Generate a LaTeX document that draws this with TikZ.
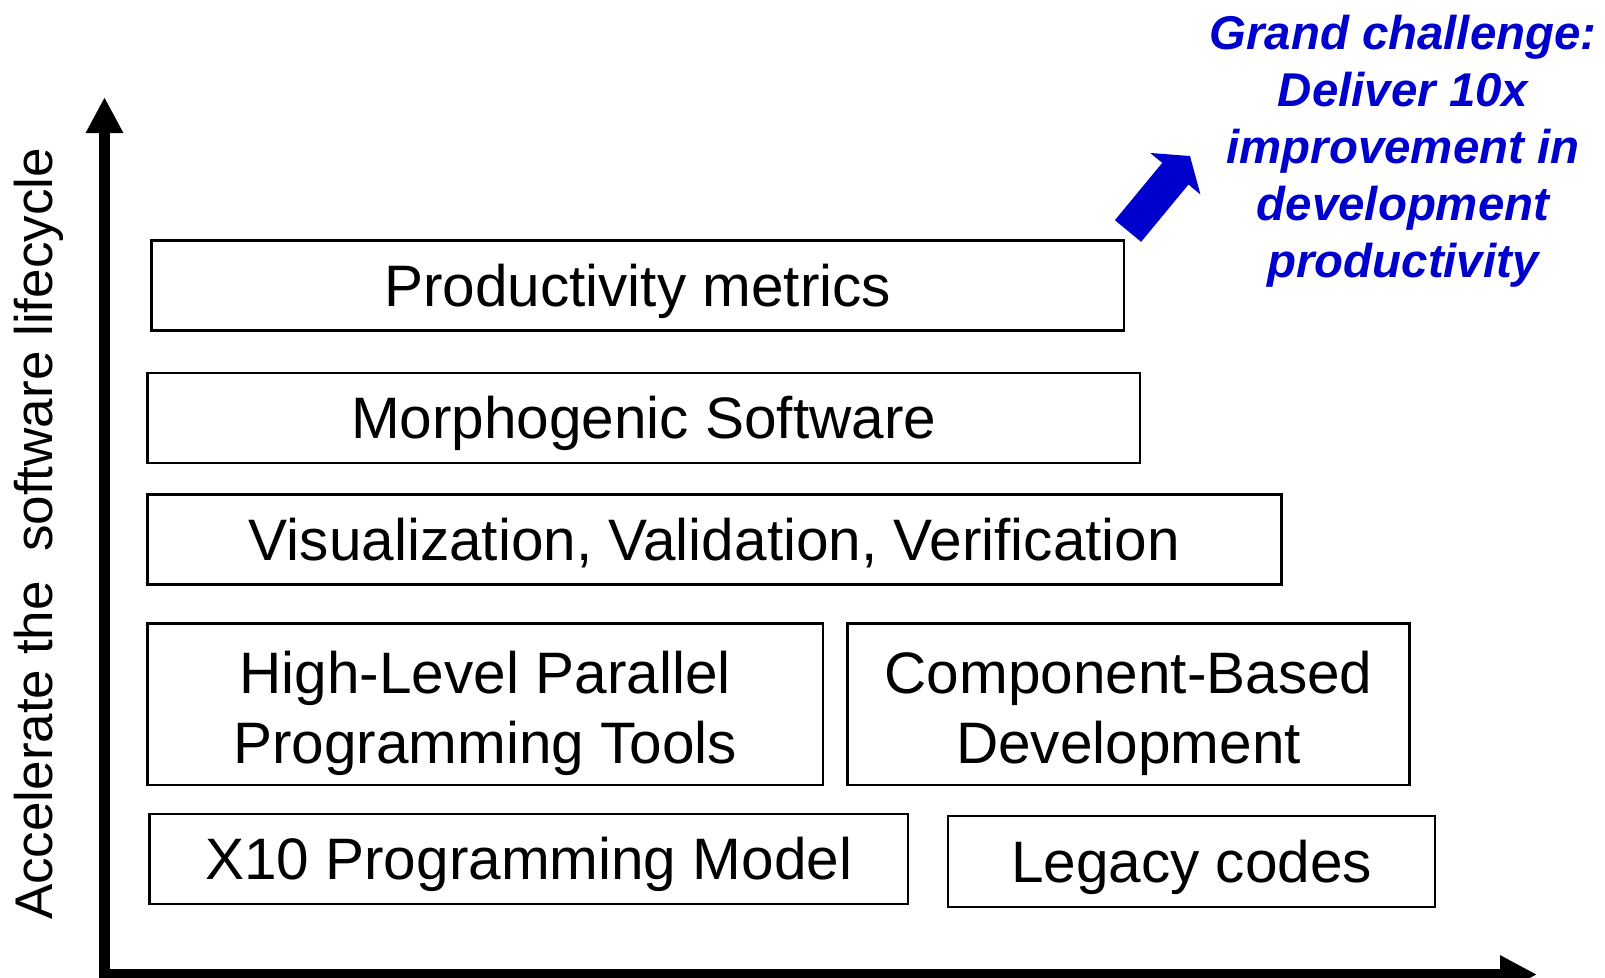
\documentclass[tikz,border=0pt]{standalone}
\usepackage{fontspec}
\setmainfont{Liberation Sans}
\usetikzlibrary{arrows.meta}
\definecolor{gblue}{HTML}{0000CC}
\tikzset{
  every picture/.style={line width=2.2pt},
  layer/.style={draw=black, rectangle, align=center, inner sep=0pt, font=\fontsize{58.5}{70}\selectfont},
  single/.style={text height=42pt, text depth=0pt},
  pair/.style={text height=130pt},
  axis/.style={line width=11pt, line join=miter, {Triangle[length=36pt,width=35pt]}-{Triangle[length=37pt,width=36pt]}},
  bigarrow/.style={draw=gblue, line width=34pt, -{Triangle[length=23pt,width=64pt]}},
  goal/.style={text=gblue, align=center, inner sep=0pt, font=\fontsize{47.4}{57}\selectfont\bfseries\itshape},
}
\begin{document}
\begin{tikzpicture}[x=1pt, y=-1pt,
  axislabel/.style={rotate=90, anchor=base, inner sep=0pt, font=\fontsize{53}{60}\selectfont}]
  \useasboundingbox (0,0) rectangle (1605,977);
  \coordinate (ytop) at (104.5,97);
  \coordinate (origin) at (104.5,974.5);
  \coordinate (xend) at (1537,974.5);
  \draw[axis] (ytop) -- (origin) -- (xend);
  \node[axislabel] (lifecycle) at (52,534) {Accelerate the\ \ software lifecycle};
  \node[layer, single, minimum width=972.5pt, minimum height=90pt] (metrics) at (637.7,285.5) {Productivity metrics};
  \node[layer, single, minimum width=992.6pt, minimum height=90pt] (morpho) at (643.7,417.7) {Morphogenic Software};
  \node[layer, single, minimum width=1134pt, minimum height=90pt] (vvv) at (714.5,539.5) {Visualization, Validation, Verification};
  \node[layer, pair, minimum width=675.6pt, minimum height=161.6pt] (tools) at (485.2,704.2) {High-Level Parallel\\Programming Tools};
  \node[layer, pair, minimum width=562pt, minimum height=161.6pt] (cbd) at (1128.5,704.2) {Component-Based\\Development};
  \node[layer, single, minimum width=758.6pt, minimum height=90pt] (x10) at (528.7,858.8) {X10 Programming Model};
  \node[layer, single, minimum width=487pt, minimum height=91pt] (legacy) at (1191.5,861.4) {Legacy codes};
  \node[goal, anchor=north] (challenge) at (1403,13.7) {Grand challenge:\\Deliver 10x\\improvement in\\development\\productivity};
  \coordinate (gtail) at (1128,231);
  \coordinate (gtip) at (1190,156);
  \draw[bigarrow] (gtail) -- (gtip);
\end{tikzpicture}
\end{document}
